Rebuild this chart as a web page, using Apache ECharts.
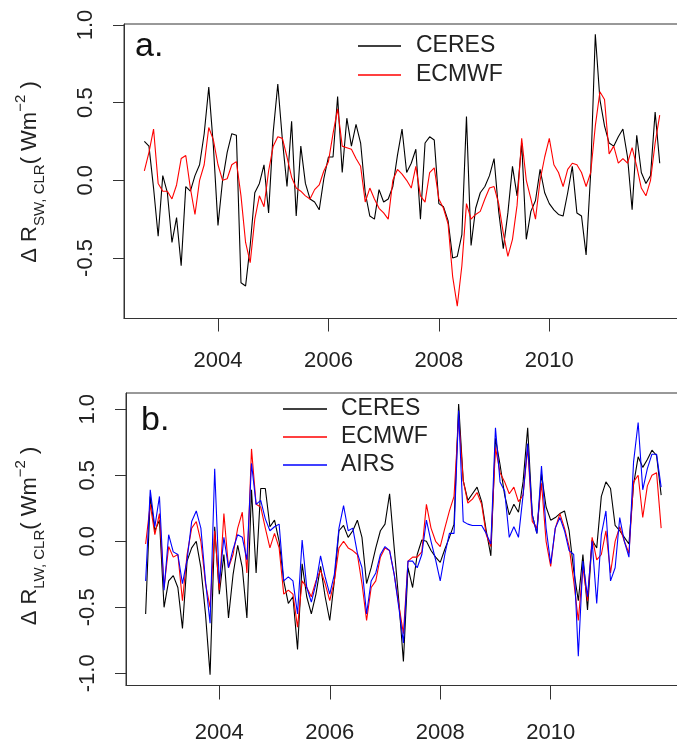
<!DOCTYPE html>
<html>
<head>
<meta charset="utf-8">
<script src="https://cdn.jsdelivr.net/npm/echarts@6.0.0/dist/echarts.min.js"></script>
<style>
    html, body { margin: 0; padding: 0; background: #fff; }
    #chart { width: 677px; height: 741px; }
</style>
</head>
<body>
<div id="chart"></div>
<script>
    // monthly anomalies, first month is Sep 2002
    const startYear = 2002 + 8 / 12
    const yearTicks = [2004, 2006, 2008, 2010]
    const yTicksSW = [-0.5, 0, 0.5, 1.0]
    const yTicksLW = [-1.0, -0.5, 0, 0.5, 1.0]

    // a. shortwave clear-sky
    const swCeres = [
        0.25, 0.22, -0.05, -0.36, 0.03, -0.08, -0.40, -0.24, -0.55, -0.04,
        -0.07, 0.03, 0.10, 0.30, 0.60, 0.22, -0.29, 0.00, 0.18, 0.30,
        0.29, -0.66, -0.68, -0.42, -0.08, -0.02, 0.10, -0.21, 0.31, 0.62,
        0.26, -0.04, 0.38, -0.23, 0.22, -0.02, -0.12, -0.14, -0.19, 0.01,
        0.15, 0.15, 0.54, 0.05, 0.40, 0.22, 0.36, 0.24, -0.08, -0.23,
        -0.25, -0.06, -0.14, -0.12, -0.04, 0.16, 0.33, 0.05, 0.11, 0.20,
        -0.25, 0.24, 0.28, 0.26, -0.15, -0.17, -0.26, -0.50, -0.49, -0.35,
        0.41, -0.42, -0.18, -0.08, -0.04, 0.03, 0.14, -0.20, -0.44, -0.21,
        0.09, -0.10, 0.24, -0.38, -0.20, -0.13, 0.07, -0.08, -0.15, -0.19,
        -0.22, -0.23, -0.08, 0.09, -0.21, -0.23, -0.48, 0.05, 0.94, 0.52,
        0.35, 0.24, 0.22, 0.28, 0.33, 0.15, -0.19, 0.29, 0.05, -0.02,
        0.03, 0.44, 0.11
    ]
    const swEcmwf = [
        0.06, 0.18, 0.33, -0.02, -0.07, -0.07, -0.12, -0.03, 0.14, 0.16,
        -0.05, -0.22, 0.00, 0.10, 0.34, 0.26, 0.10, 0.00, 0.01, 0.10,
        0.12, -0.10, -0.40, -0.53, -0.25, -0.10, -0.17, 0.06, 0.22, 0.28,
        0.27, 0.15, 0.02, -0.05, -0.07, -0.10, -0.12, -0.06, -0.03, 0.06,
        0.12, 0.30, 0.46, 0.22, 0.21, 0.20, 0.14, 0.09, -0.14, -0.05,
        -0.12, -0.18, -0.21, -0.25, 0.00, 0.07, 0.04, 0.00, -0.05, 0.09,
        -0.10, -0.14, 0.05, 0.08, -0.12, -0.18, -0.28, -0.62, -0.81, -0.55,
        -0.15, -0.25, -0.22, -0.20, -0.12, -0.05, -0.04, -0.15, -0.34, -0.49,
        -0.38, -0.16, 0.27, 0.00, -0.12, -0.25, 0.00, 0.15, 0.27, 0.10,
        0.05, -0.04, 0.07, 0.11, 0.10, 0.05, -0.04, 0.05, 0.35, 0.57,
        0.52, 0.17, 0.22, 0.11, 0.14, 0.11, 0.21, 0.09, -0.05, -0.10,
        0.00, 0.24, 0.42
    ]

    // b. longwave clear-sky
    const lwCeres = [
        -0.55, 0.34, 0.08, 0.16, -0.50, -0.30, -0.26, -0.35, -0.66, -0.15,
        -0.05, 0.00, -0.20, -0.55, -1.01, 0.11, -0.40, -0.10, -0.58, -0.25,
        -0.03, -0.20, -0.58, 0.39, -0.24, 0.40, 0.40, 0.11, 0.16, 0.00,
        -0.30, -0.47, -0.42, -0.82, -0.17, -0.42, -0.55, -0.40, -0.19, -0.42,
        -0.60, -0.30, 0.08, 0.12, 0.03, 0.08, 0.16, 0.03, -0.32, -0.20,
        -0.05, 0.08, 0.13, 0.36, -0.05, -0.45, -0.91, -0.20, -0.35, -0.10,
        0.01, 0.00, -0.07, -0.12, -0.16, -0.06, 0.03, 0.13, 1.04, 0.46,
        0.31, 0.36, 0.41, 0.30, 0.08, -0.11, 0.78, 0.58, 0.35, 0.20,
        0.28, 0.22, 0.45, 0.86, 0.20, 0.06, 0.51, 0.26, 0.16, 0.18,
        0.21, 0.23, 0.08, -0.22, -0.45, -0.10, -0.52, 0.01, -0.05, 0.34,
        0.45, 0.40, 0.12, 0.08, 0.03, -0.02, 0.43, 0.64, 0.56, 0.62,
        0.69, 0.65, 0.35
    ]
    const lwEcmwf = [
        -0.02, 0.28, 0.05, 0.21, -0.35, -0.04, -0.12, -0.10, -0.45, -0.10,
        0.10, 0.15, 0.00, -0.32, -0.50, 0.08, -0.37, 0.21, -0.20, -0.10,
        0.10, 0.22, -0.24, 0.70, 0.28, 0.26, 0.10, -0.05, 0.06, -0.05,
        -0.40, -0.37, -0.40, -0.65, -0.30, -0.35, -0.42, -0.30, -0.22, -0.32,
        -0.45, -0.30, -0.05, 0.00, -0.05, -0.07, -0.10, -0.32, -0.60, -0.35,
        -0.30, -0.12, -0.05, -0.07, -0.25, -0.48, -0.70, -0.15, -0.12, -0.12,
        -0.08, 0.28, 0.10, 0.00, -0.04, 0.10, 0.23, 0.34, 0.94, 0.46,
        0.29, 0.32, 0.37, 0.28, 0.05, -0.04, 0.71, 0.52, 0.45, 0.36,
        0.41, 0.30, 0.35, 0.71, 0.15, 0.10, 0.44, 0.00, -0.19, 0.10,
        0.21, 0.10, -0.04, -0.30, -0.60, -0.20, -0.45, 0.03, -0.14, -0.10,
        0.08, -0.24, 0.00, 0.11, 0.00, -0.09, 0.45, 0.50, 0.18, 0.42,
        0.50, 0.52, 0.10
    ]
    const lwAirs = [
        -0.30, 0.39, 0.11, 0.34, -0.37, 0.05, -0.08, -0.10, -0.32, -0.14,
        0.15, 0.23, 0.10, -0.30, -0.62, 0.55, -0.32, 0.03, -0.20, -0.06,
        0.05, 0.03, -0.14, 0.59, 0.28, 0.31, 0.17, 0.08, 0.11, 0.13,
        -0.30, -0.27, -0.30, -0.55, 0.01, -0.35, -0.46, -0.32, -0.11, -0.27,
        -0.40, -0.25, 0.10, 0.27, 0.08, 0.10, -0.09, -0.20, -0.55, -0.30,
        -0.24, -0.10, -0.04, -0.07, -0.25, -0.50, -0.77, -0.15, -0.15, -0.20,
        -0.10, 0.16, 0.00, -0.14, -0.30, -0.10, 0.06, 0.06, 0.99, 0.15,
        0.13, 0.12, 0.12, 0.12, 0.06, -0.02, 0.86, 0.45, 0.38, 0.03,
        0.11, 0.03, 0.35, 0.74, 0.20, 0.06, 0.57, 0.10, -0.17, 0.10,
        0.18, 0.08, -0.07, -0.10, -0.87, -0.15, -0.42, 0.00, -0.47, 0.05,
        0.23, -0.30, -0.20, 0.18, 0.00, -0.12, 0.60, 0.90, 0.39, 0.55,
        0.66, 0.66, 0.41
    ]

    const font = '"Liberation Sans", Arial, sans-serif'
    const boxColor = '#333'
    const textColor = '#222'

    function pairs(vals) {
        return vals.map((v, i) => [startYear + i / 12, v])
    }

    function line(name, vals, color, gridIdx) {
        return {
            name: name,
            type: 'line',
            xAxisIndex: gridIdx,
            yAxisIndex: gridIdx,
            data: pairs(vals),
            color: color,
            symbol: 'none',
            lineStyle: { color: color, width: 1.1 },
            emphasis: { disabled: true }
        }
    }

    function xAxis(gridIdx, min, max, margin, tickLen) {
        return {
            type: 'value',
            gridIndex: gridIdx,
            min: min,
            max: max,
            splitLine: { show: false },
            axisLine: { show: true, onZero: false, lineStyle: { color: boxColor, width: 1 } },
            axisTick: { show: true, length: tickLen, customValues: yearTicks, lineStyle: { color: boxColor, width: 1 } },
            axisLabel: {
                customValues: yearTicks,
                margin: margin,
                color: textColor,
                fontFamily: font,
                fontSize: 22,
                formatter: v => String(v)
            }
        }
    }

    function yAxis(gridIdx, min, max, ticks) {
        return {
            type: 'value',
            gridIndex: gridIdx,
            min: min,
            max: max,
            splitLine: { show: false },
            axisLine: { show: true, onZero: false, lineStyle: { color: boxColor, width: 1 } },
            axisTick: { show: true, length: 11, customValues: ticks, lineStyle: { color: boxColor, width: 1 } },
            axisLabel: {
                customValues: ticks,
                rotate: 90,
                margin: 27,
                color: textColor,
                fontFamily: font,
                fontSize: 22,
                formatter: v => v.toFixed(1)
            }
        }
    }

    function axisTitle(x, y, sub) {
        return {
            type: 'text',
            x: x,
            y: y,
            rotation: Math.PI / 2,
            style: {
                text: '{m|\u0394 R}{s|' + sub + ', CLR}{m|( Wm}{p|\u22122}{m| )}',
                align: 'center',
                verticalAlign: 'middle',
                fill: textColor,
                rich: {
                    m: { fontFamily: font, fontSize: 22, lineHeight: 34, fill: textColor },
                    s: { fontFamily: font, fontSize: 15, lineHeight: 22, verticalAlign: 'bottom', fill: textColor },
                    p: { fontFamily: font, fontSize: 15, lineHeight: 14, verticalAlign: 'top', fill: textColor }
                }
            }
        }
    }

    function panelLabel(x, y, txt) {
        return {
            type: 'text',
            x: x,
            y: y,
            style: {
                text: txt,
                fill: '#111',
                font: '34px ' + font,
                align: 'left',
                verticalAlign: 'middle'
            }
        }
    }

    const chart = echarts.init(document.getElementById('chart'))

    // boxes run past the right edge of the canvas, as in the original crop
    const options = {
        backgroundColor: '#fff',
        animation: false,
        grid: [
            { left: 124, top: 24, width: 565, height: 294.5, outerBoundsMode: 'none', show: true, borderColor: boxColor, borderWidth: 1 },
            { left: 126, top: 393, width: 563, height: 292.5, outerBoundsMode: 'none', show: true, borderColor: boxColor, borderWidth: 1 }
        ],
        xAxis: [
            xAxis(0, 2002.298, 2012.530, 31, 13),
            xAxis(1, 2002.311, 2012.504, 36, 14)
        ],
        yAxis: [
            yAxis(0, -0.8897, 1.0063, yTicksSW),
            yAxis(1, -1.0924, 1.1235, yTicksLW)
        ],
        legend: [
            {
                left: 353, top: 29.5, orient: 'vertical',
                icon: 'rect', itemWidth: 43, itemHeight: 1.5, itemGap: 6,
                selectedMode: false,
                data: ['CERES', 'ECMWF'],
                textStyle: { fontFamily: font, fontSize: 23, color: textColor, lineHeight: 22, padding: [0, 0, 0, 10] }
            },
            {
                left: 278, top: 392.5, orient: 'vertical',
                icon: 'rect', itemWidth: 44, itemHeight: 1.5, itemGap: 5,
                selectedMode: false,
                data: ['CERES', 'ECMWF', 'AIRS'],
                textStyle: { fontFamily: font, fontSize: 23, color: textColor, lineHeight: 22, padding: [0, 0, 0, 9] }
            }
        ],
        graphic: [
            axisTitle(30, 172, 'SW'),
            axisTitle(30, 536, 'LW'),
            panelLabel(135, 47, 'a.'),
            panelLabel(141, 421, 'b.')
        ],
        series: [
            line('CERES', swCeres, '#000000', 0),
            line('ECMWF', swEcmwf, '#ff0000', 0),
            line('CERES', lwCeres, '#000000', 1),
            line('ECMWF', lwEcmwf, '#ff0000', 1),
            line('AIRS', lwAirs, '#0000ff', 1)
        ]
    }

    chart.setOption(options)
</script>
</body>
</html>
